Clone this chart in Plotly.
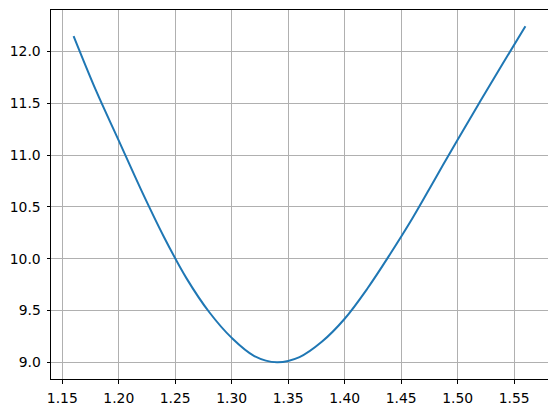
import plotly.graph_objects as go

x_vals = [1.16, 1.18, 1.20, 1.22, 1.24, 1.26, 1.28, 1.30, 1.32, 1.34, 1.36,
          1.38, 1.40, 1.42, 1.44, 1.46, 1.48, 1.50, 1.52, 1.54, 1.56]
y_vals = [12.15, 11.62, 11.14, 10.66, 10.21, 9.81, 9.485, 9.235, 9.06, 9.0, 9.05,
          9.2, 9.42, 9.71, 10.04, 10.39, 10.77, 11.15, 11.52, 11.885, 12.245]

x_ticks = [1.15, 1.20, 1.25, 1.30, 1.35, 1.40, 1.45, 1.50, 1.55]
y_ticks = [9.0, 9.5, 10.0, 10.5, 11.0, 11.5, 12.0]

fig = go.Figure()
fig.add_trace(go.Scatter(x=x_vals, y=y_vals, mode="lines",
                         line=dict(color="#1f77b4", width=2, shape="spline", smoothing=1.0),
                         showlegend=False, hoverinfo="skip"))

axis_common = dict(showline=True, linecolor="black", linewidth=1, mirror=True,
                   showgrid=True, gridcolor="#b0b0b0", gridwidth=0.8,
                   ticks="outside", ticklen=3.5, tickcolor="black", tickwidth=0.8,
                   zeroline=False, automargin=False,
                   tickfont=dict(family="DejaVu Sans", size=13.9, color="black"))

fig.update_layout(
    width=548, height=405,
    margin=dict(l=43, r=8, t=2, b=34),
    paper_bgcolor="white", plot_bgcolor="white",
    xaxis=dict(range=[1.14, 1.58], tickvals=x_ticks,
               ticktext=[f"{v:.2f}" for v in x_ticks], ticklabelstandoff=3, **axis_common),
    yaxis=dict(range=[8.838, 12.402], tickvals=y_ticks,
               ticktext=[f"{v:.1f}" for v in y_ticks], ticklabelstandoff=3, **axis_common),
)

fig.write_html("out.html")
